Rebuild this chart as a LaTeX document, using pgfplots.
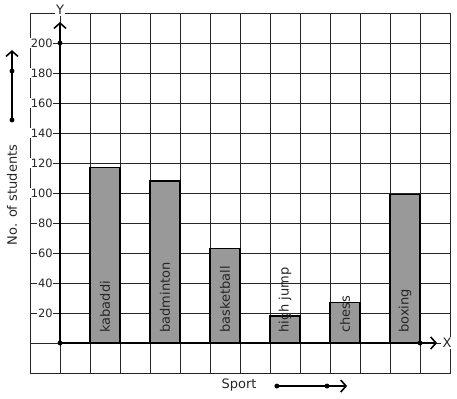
\documentclass[border=0pt]{standalone}
\usepackage{pgfplots}
\pgfplotsset{compat=1.18}
\usepackage{fontspec}
\setmainfont{DejaVu Sans}
\usetikzlibrary{arrows.meta}
\begin{document}
\begin{tikzpicture}
\begin{axis}[
 at={(22.5pt,19.5pt)}, anchor=south west,
 scale only axis, width=315pt, height=270pt,
 xmin=-1, xmax=13, ymin=-20, ymax=220,
 xtick={-1,0,...,13}, xticklabels={},
 ytick={20,40,...,200},
 yticklabels={20,40,60,80,100,120,140,160,180,200},
 extra y ticks={-20,0,220}, extra y tick labels={},
 extra y tick style={grid=major, yticklabel style={fill=none}},
 major tick length=0pt,
 grid=major,
 major grid style={black!85, line width=0.6pt},
 axis line style={black!85, line width=0.6pt},
 clip=false,
 yticklabel style={font=\fontsize{8.6}{10}\selectfont, fill=white, inner sep=0.5pt, anchor=east, xshift=17.75pt, text=black!85},
]
\addplot[ybar, bar width=1, bar shift=0pt, fill=gray!80, draw=black, line width=0.8pt]
 coordinates {(1.5,117)(3.5,108)(5.5,63)(7.5,18)(9.5,27)(11.5,99)};
\addplot[draw=none, mark=none, nodes near coords, point meta=explicit symbolic,
 nodes near coords style={rotate=90, anchor=west, inner sep=0pt, font=\fontsize{9.75}{11}\selectfont, text=black!85}]
 coordinates {(1.5,6.7)[kabaddi] (3.5,6.7)[badminton] (5.5,6.7)[basketball] (7.5,6.7)[high jump] (9.5,6.7)[chess] (11.5,6.7)[boxing]};
\draw[line width=2pt, -{Straight Barb[length=4pt,width=9pt,line width=1.2pt]}] (axis cs:0,0) -- (axis cs:0,214);
\draw[line width=2pt, -{Straight Barb[length=4pt,width=9pt,line width=1.2pt]}] (axis cs:0,0) -- (axis cs:12.57,0);
\addplot[only marks, mark=*, mark size=1.6pt, black] coordinates {(0,0)(0,200)(12,0)};
\draw[line width=1.6pt, -{Straight Barb[length=4pt,width=9pt,line width=1.2pt]}] (axis cs:-1.6,148.7) -- (axis cs:-1.6,195.3);
\draw[line width=1.6pt, -{Straight Barb[length=4pt,width=9pt,line width=1.2pt]}] (axis cs:7.23,-28.7) -- (axis cs:9.57,-28.7);
\addplot[only marks, mark=*, mark size=1.6pt, black] coordinates {(-1.6,148.7)(-1.6,181.3)(7.23,-28.7)(8.9,-28.7)};
\node[rotate=90, font=\fontsize{9.75}{11}\selectfont, text=black!85] at (axis cs:-1.6,98.7) {No. of students};
\node[font=\fontsize{9.75}{11}\selectfont, text=black!85] at (axis cs:5.97,-28) {Sport};
\node[fill=white, inner sep=1pt, font=\fontsize{9.75}{11}\selectfont, text=black!85] at (axis cs:0,222) {Y};
\node[fill=white, inner sep=1pt, font=\fontsize{9.75}{11}\selectfont, text=black!85] at (axis cs:12.9,0) {X};
\end{axis}
\pgfresetboundingbox
\path (0,0) rectangle (342.75pt,299.25pt);
\end{tikzpicture}
\end{document}
